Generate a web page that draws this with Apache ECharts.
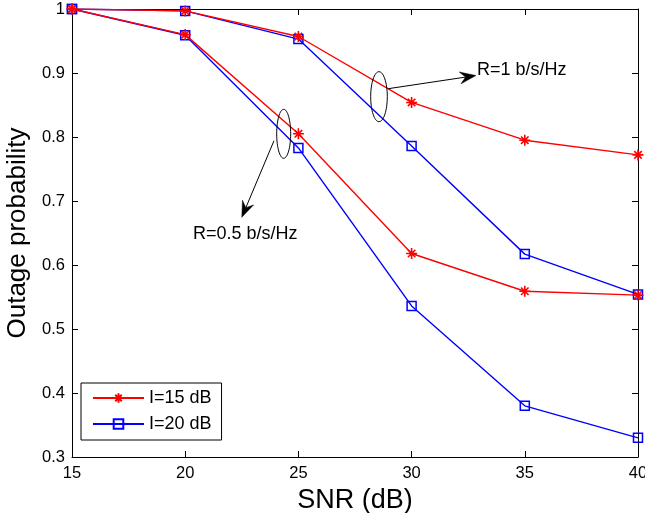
<!DOCTYPE html>
<html>
<head>
<meta charset="utf-8">
<script src="https://cdn.jsdelivr.net/npm/echarts@6/dist/echarts.min.js"></script>
<style>
html,body{margin:0;padding:0;background:#fff;}
#chart{width:645px;height:513px;}
</style>
</head>
<body>
<div id="chart"></div>
<script>
// ---- data ----
var snr = [15, 20, 25, 30, 35, 40];
var r1_I15 = [1.0, 0.997, 0.957, 0.854, 0.795, 0.772];
var r1_I20 = [1.0, 0.997, 0.953, 0.786, 0.617, 0.554];
var r05_I15 = [1.0, 0.960, 0.805, 0.618, 0.559, 0.553];
var r05_I20 = [1.0, 0.959, 0.783, 0.536, 0.380, 0.330];
var legendNames = ['I=15 dB', 'I=20 dB'];
var xName = 'SNR (dB)';
var yName = 'Outage probability';
// annotations (data coordinates)
var ann1 = {ellipse: [28.56, 0.863], from: [28.97, 0.8755], to: [32.84, 0.896], text: 'R=1 b/s/Hz', textAt: [32.89, 0.9047]};
var ann2 = {ellipse: [24.35, 0.805], from: [23.92, 0.794], to: [22.50, 0.6745], text: 'R=0.5 b/s/Hz', textAt: [20.34, 0.6484]};

function pairs(ys) { return snr.map(function (x, i) { return [x, ys[i]]; }); }

var RED = '#ff0000', BLUE = '#0000ff';
var starPath = 'path://M5,0 L5,10 M0,5 L10,5 M1.6,1.6 L8.4,8.4 M1.6,8.4 L8.4,1.6';

function redSeries(ys) {
  return {
    name: legendNames[0], type: 'line', data: pairs(ys),
    symbol: starPath, symbolSize: 11, showSymbol: true,
    lineStyle: {color: RED, width: 1.4},
    itemStyle: {color: RED, borderColor: RED, borderWidth: 1.6},
    emphasis: {disabled: true}, z: 3, animation: false
  };
}
function blueSeries(ys) {
  return {
    name: legendNames[1], type: 'line', data: pairs(ys),
    symbol: 'rect', symbolSize: 9, showSymbol: true,
    lineStyle: {color: BLUE, width: 1.4},
    itemStyle: {color: 'rgba(255,255,255,0)', borderColor: BLUE, borderWidth: 1.5},
    emphasis: {disabled: true}, z: 2, animation: false
  };
}

var FONT = 'Liberation Sans, Arial, Helvetica, sans-serif';
var chart = echarts.init(document.getElementById('chart'), null, {renderer: 'canvas'});

var axisCommon = {
  axisLine: {show: true, onZero: false, lineStyle: {color: '#000', width: 1}},
  axisTick: {show: true, inside: true, length: 6, lineStyle: {color: '#000'}},
  splitLine: {show: false}
};

chart.setOption({
  animation: false,
  backgroundColor: '#fff',
  grid: {left: 72, top: 9, width: 566, height: 448, containLabel: false, outerBoundsMode: 'none'},
  legend: {
    data: legendNames, orient: 'vertical', left: 81, top: 383,
    padding: [6, 10, 7, 11], itemGap: 8, itemWidth: 51, itemHeight: 12,
    borderColor: '#000', borderWidth: 1, backgroundColor: '#fff',
    textStyle: {fontFamily: FONT, fontSize: 18, color: '#000', lineHeight: 18},
    selectedMode: false
  },
  xAxis: [
    Object.assign({}, axisCommon, {
      type: 'value', position: 'bottom', min: 15, max: 40, interval: 5,
      name: xName, nameLocation: 'middle', nameGap: 26,
      nameTextStyle: {fontFamily: FONT, fontSize: 27, color: '#000'},
      axisLabel: {fontFamily: FONT, fontSize: 16.5, color: '#000', margin: 8}
    }),
    Object.assign({}, axisCommon, {
      type: 'value', position: 'top', min: 15, max: 40, interval: 5,
      axisLabel: {show: false}
    })
  ],
  yAxis: [
    Object.assign({}, axisCommon, {
      type: 'value', position: 'left', min: 0.3, max: 1, interval: 0.1,
      name: yName, nameLocation: 'middle', nameGap: 38, nameRotate: 90,
      nameTextStyle: {fontFamily: FONT, fontSize: 26, color: '#000'},
      axisLabel: {fontFamily: FONT, fontSize: 16.5, color: '#000', margin: 7}
    }),
    Object.assign({}, axisCommon, {
      type: 'value', position: 'right', min: 0.3, max: 1, interval: 0.1,
      axisLabel: {show: false}
    })
  ],
  series: [
    blueSeries(r1_I20), blueSeries(r05_I20),
    redSeries(r1_I15), redSeries(r05_I15)
  ]
});

function px(p) { return chart.convertToPixel({xAxisIndex: 0, yAxisIndex: 0}, p); }

function annotation(a, rx, ry) {
  var c = px(a.ellipse), s = px(a.from), t = px(a.to), tp = px(a.textAt);
  var dx = t[0] - s[0], dy = t[1] - s[1], len = Math.sqrt(dx * dx + dy * dy);
  var ux = dx / len, uy = dy / len, nx = -uy, ny = ux;
  var L = 16, W = 6;
  var head = [
    [t[0], t[1]],
    [t[0] - L * ux + W * nx, t[1] - L * uy + W * ny],
    [t[0] - 0.65 * L * ux, t[1] - 0.65 * L * uy],
    [t[0] - L * ux - W * nx, t[1] - L * uy - W * ny]
  ];
  return [
    {type: 'ellipse', shape: {cx: c[0], cy: c[1], rx: rx, ry: ry}, style: {fill: null, stroke: '#000', lineWidth: 1}, z: 10},
    {type: 'line', shape: {x1: s[0], y1: s[1], x2: t[0] - 0.6 * L * ux, y2: t[1] - 0.6 * L * uy}, style: {stroke: '#000', lineWidth: 1}, z: 10},
    {type: 'polygon', shape: {points: head}, style: {fill: '#000', stroke: '#000', lineWidth: 0.5}, z: 10},
    {type: 'text', x: tp[0], y: tp[1], style: {text: a.text, fill: '#000', font: '18px ' + FONT, verticalAlign: 'middle', align: 'left'}, z: 11}
  ];
}

chart.setOption({graphic: annotation(ann1, 8.3, 25).concat(annotation(ann2, 7, 24.5))});
</script>
</body>
</html>
